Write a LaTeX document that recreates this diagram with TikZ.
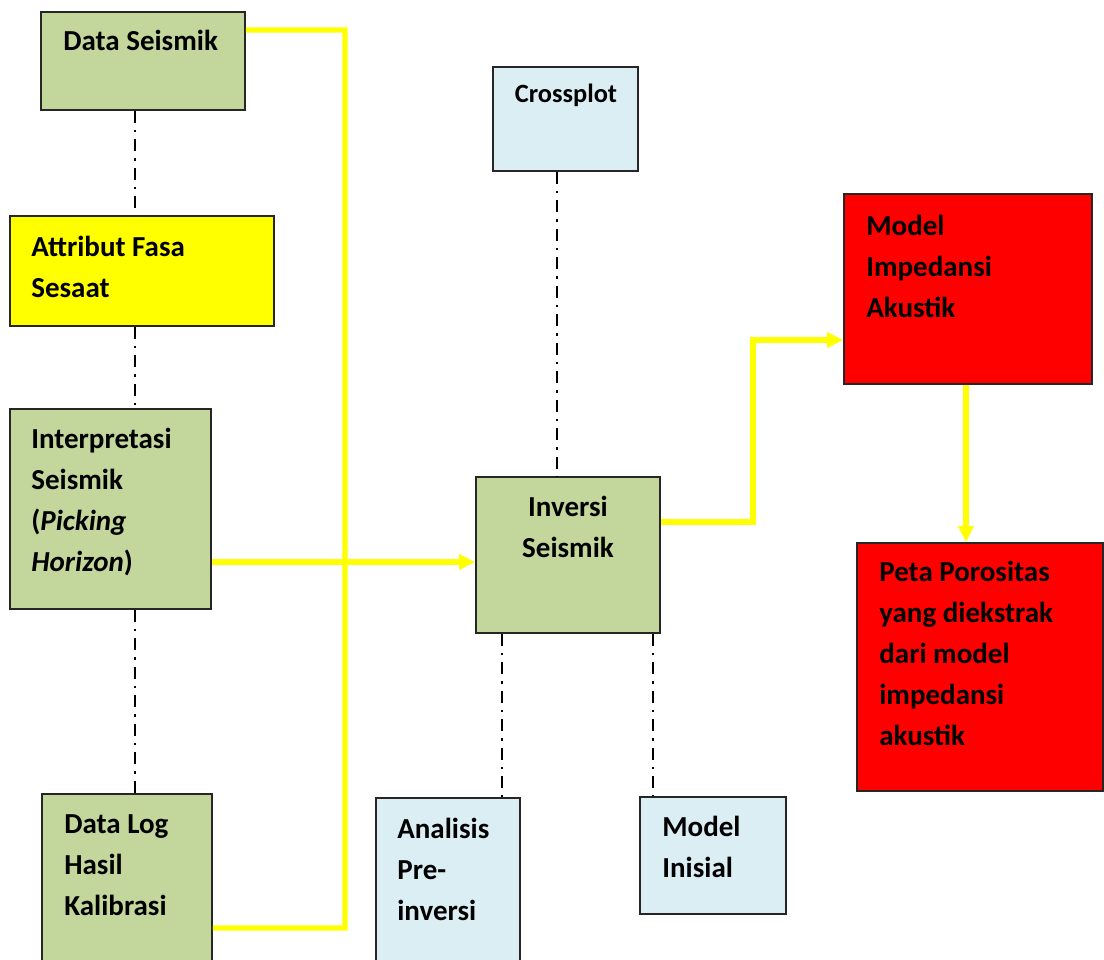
\documentclass[tikz,border=0pt]{standalone}
\usepackage{fontspec}
\setmainfont{Carlito}
\usetikzlibrary{arrows.meta}
\definecolor{olivebox}{HTML}{C3D69B}
\definecolor{bluebox}{HTML}{DBEEF4}
\definecolor{flowyellow}{HTML}{FFFF00}
\definecolor{boxred}{HTML}{FF0000}
\begin{document}
\begin{tikzpicture}[
    x=0.02cm, y=-0.02cm,
    box/.style={rectangle, draw=black!85, line width=1.1pt, inner sep=0pt},
    txt/.style={align=left, inner sep=0pt, font=\bfseries\fontsize{16.5}{23.3}\selectfont},
    flow/.style={draw=flowyellow, line width=3.1pt},
    flowarrow/.style={flow, -{Triangle[length=0.32cm, width=0.3cm]}},
    link/.style={line width=1.1pt, dash pattern=on 0.24cm off 0.14cm on 0.05cm off 0.14cm}
]
\clip (0,0) rectangle (1104,959);

% Boxes
\node[box, fill=olivebox, minimum width=4.08cm, minimum height=1.96cm] (seis) at (143,61) {};
\node[box, fill=flowyellow, minimum width=5.28cm, minimum height=2.2cm] (attr) at (142,271) {};
\node[box, fill=olivebox, minimum width=4.02cm, minimum height=4cm] (interp) at (110.5,509) {};
\node[box, fill=olivebox, minimum width=3.4cm, minimum height=4.12cm] (dlog) at (127,897) {};
\node[box, fill=bluebox, minimum width=2.9cm, minimum height=2.08cm] (cross) at (565.5,119) {};
\node[box, fill=olivebox, minimum width=3.68cm, minimum height=3.12cm] (inv) at (568,555) {};
\node[box, fill=bluebox, minimum width=2.88cm, minimum height=4.04cm] (ana) at (448,899) {};
\node[box, fill=bluebox, minimum width=2.92cm, minimum height=2.34cm] (mini) at (713,855.5) {};
\node[box, fill=boxred, minimum width=4.96cm, minimum height=3.8cm] (mia) at (968,289) {};
\node[box, fill=boxred, minimum width=4.92cm, minimum height=4.96cm] (peta) at (980,667) {};

% Texts (placed at the baseline of the last line)
\node[txt, anchor=base west] (seis-t) at (63,51) {Data Seismik};
\node[txt, anchor=base west] (attr-t) at (31,297) {Attribut Fasa\\Sesaat};
\node[txt, anchor=base west] (interp-t) at (31,571) {Interpretasi\\Seismik\\(\textit{Picking}\\\textit{Horizon})};
\node[txt, anchor=base west] (dlog-t) at (64,915) {Data Log\\Hasil\\Kalibrasi};
\node[txt, anchor=base, font=\bfseries\fontsize{15}{18}\selectfont] (cross-t) at (566,103) {Crossplot};
\node[txt, anchor=base, align=center] (inv-t) at (568,557) {Inversi\\Seismik};
\node[txt, anchor=base west] (ana-t) at (397,920) {Analisis\\Pre-\\inversi};
\node[txt, anchor=base west] (mini-t) at (662,877) {Model\\Inisial};
\node[txt, anchor=base west] (mia-t) at (866,317) {Model\\Impedansi\\Akustik};
\node[txt, anchor=base west] (peta-t) at (879,745) {Peta Porositas\\yang diekstrak\\dari model\\impedansi\\akustik};

% Dash-dot links
\coordinate (colA) at (135,0);
\coordinate (colB) at (557,0);
\coordinate (colC) at (502,0);
\coordinate (colD) at (653,0);
\draw[link] (seis.south -| colA) -- (attr.north -| colA);
\draw[link] (attr.south -| colA) -- (interp.north -| colA);
\draw[link] (interp.south -| colA) -- (dlog.north -| colA);
\draw[link] (cross.south -| colB) -- (inv.north -| colB);
\draw[link] (inv.south -| colC) -- (ana.north -| colC);
\draw[link] (inv.south -| colD) -- (mini.north -| colD);

% Yellow flow lines
\coordinate (trunk) at (345,928);
\draw[flow] ([yshift=0.62cm]seis.east) -| (trunk) -- ([yshift=-0.62cm]dlog.east);
\draw[flowarrow] ([yshift=-1.06cm]interp.east) -- ([yshift=-1.06cm]interp.east -| inv.west);
\draw[flowarrow] ([yshift=0.66cm]inv.east) -- ++(92,0) |- ([yshift=-1.02cm]mia.west);
\draw[flowarrow] ([xshift=-0.04cm]mia.south) -- ([xshift=-0.04cm]mia.south |- peta.north);

\end{tikzpicture}
\end{document}
